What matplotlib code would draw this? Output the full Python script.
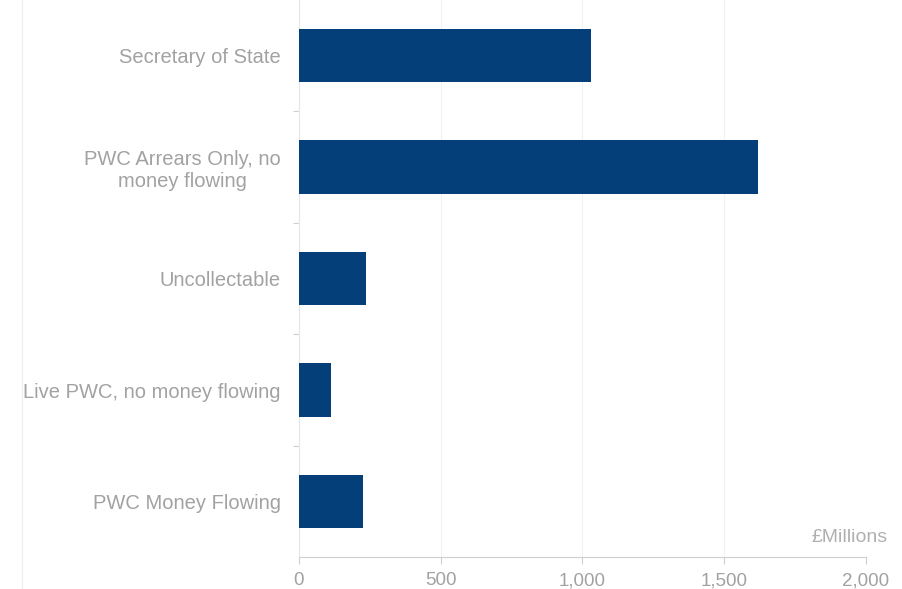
import matplotlib.pyplot as plt
import numpy as np
from matplotlib.ticker import FuncFormatter, FixedLocator

plt.rcParams["font.family"] = ["Liberation Sans", "DejaVu Sans"]

categories = [
    "Secretary of State",
    "PWC Arrears Only, no\nmoney flowing",
    "Uncollectable",
    "Live PWC, no money flowing",
    "PWC Money Flowing",
]
arrears = [1030, 1620, 237, 113, 226]   # £ millions
x_ticks = [0, 500, 1000, 1500, 2000]

bar_color = "#053f7a"
label_grey = "#a2a2a2"
axis_grey = "#cfcfcf"

fig = plt.figure(figsize=(9.03, 5.89), dpi=100)
ax = fig.add_axes([0.331, 0.054, 0.628, 0.946])

pos = np.arange(len(categories))
ax.barh(pos, arrears, height=0.48, color=bar_color, zorder=3)

ax.set_ylim(len(categories) - 0.5, -0.5)
ax.set_xlim(0, 2000)

ax.set_yticks(pos)
ax.set_yticklabels(categories, fontsize=14.5, color=label_grey,
                   linespacing=1.2, multialignment="center")
ax.yaxis.set_minor_locator(FixedLocator(pos[:-1] + 0.5))
ax.tick_params(axis="y", which="major", length=0, pad=13)
ax.tick_params(axis="y", which="minor", length=4, color=axis_grey, width=0.8)

ax.set_xticks(x_ticks)
ax.xaxis.set_major_formatter(FuncFormatter(lambda v, p: f"{int(v):,}"))
ax.tick_params(axis="x", length=5, color=axis_grey, labelsize=13.5,
               labelcolor=label_grey, pad=6)

# faint vertical gridlines
for v in x_ticks[1:]:
    ax.axvline(v, color="#f2f2f2", lw=0.8, zorder=1)

for side in ["top", "right"]:
    ax.spines[side].set_visible(False)
ax.spines["left"].set_color("#e6e6e6")
ax.spines["bottom"].set_color(axis_grey)

fig.text(0.983, 0.073, "£Millions", ha="right", va="bottom",
         fontsize=14, color="#b0b0b0")

# thin border line down the left edge
fig.add_artist(plt.Line2D([0.024, 0.024], [0, 1], transform=fig.transFigure,
                          color="#ececec", lw=0.8))

fig.savefig("out.png", dpi=100)
